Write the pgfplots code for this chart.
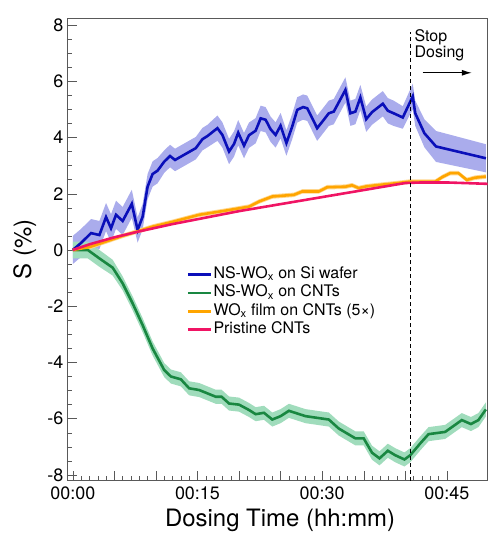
\documentclass[border=0pt]{standalone}
\usepackage{pgfplots}
\pgfplotsset{compat=1.18}
\usepackage{pgfplotstable}
\usepgfplotslibrary{fillbetween}
\usetikzlibrary{arrows.meta}
\usepackage{fontspec}
\setmainfont{TeX Gyre Heros}

\definecolor{cblue}{RGB}{10,15,185}
\definecolor{cgreen}{RGB}{25,135,65}
\definecolor{corange}{RGB}{255,165,0}
\definecolor{cpink}{RGB}{240,20,100}
\definecolor{bblue}{RGB}{170,172,236}
\definecolor{bgreen}{RGB}{160,220,188}
\definecolor{borange}{RGB}{255,214,140}

% t (min), S (%), half-width of band
\pgfplotstableread{
t s e
0 0 0.5
1 0.25 0.5
2.2 0.6 0.5
3.2 0.53 0.5
4.0 1.17 0.5
4.6 0.77 0.5
5.2 1.25 0.5
6.0 1.03 0.5
7.1 1.64 0.5
7.8 0.71 0.45
8.4 1.18 0.45
9.0 2.25 0.45
9.6 2.7 0.45
10.2 2.82 0.45
11.0 3.14 0.4
11.7 3.34 0.4
12.3 3.2 0.4
14.8 3.62 0.4
15.6 3.94 0.4
16.2 4.05 0.4
17.4 4.33 0.45
18.0 4.09 0.45
18.8 3.5 0.45
19.4 3.77 0.45
19.9 4.17 0.45
20.6 3.71 0.45
21.2 4.08 0.45
22.0 4.24 0.45
22.6 4.68 0.45
23.2 4.63 0.45
23.8 4.29 0.45
24.4 4.09 0.45
25.0 4.42 0.45
25.7 3.8 0.45
26.4 4.39 0.45
27.0 4.98 0.45
27.7 5.08 0.45
28.2 5.04 0.45
29.4 4.33 0.45
30.2 4.63 0.45
30.8 4.86 0.45
31.4 4.92 0.45
32.8 5.69 0.45
33.4 4.86 0.45
34.0 4.92 0.45
34.6 5.42 0.45
35.3 4.65 0.45
36.0 4.9 0.45
37.3 5.2 0.45
37.9 4.95 0.45
38.6 4.86 0.45
39.7 4.71 0.4
40.9 5.46 0.45
41.2 4.86 0.45
42.3 4.15 0.5
43.7 3.68 0.55
49.7 3.26 0.5
}\blue

\pgfplotstableread{
t s e
0 0 0.3
1.8 0.0 0.3
3.2 -0.3 0.3
4.8 -0.63 0.28
6.0 -1.19 0.25
7.2 -1.9 0.25
8.4 -2.67 0.25
9.6 -3.5 0.25
11.0 -4.27 0.25
11.8 -4.5 0.25
13.0 -4.6 0.25
14.0 -4.92 0.25
15.2 -4.98 0.25
17.2 -5.22 0.25
17.9 -5.22 0.25
18.8 -5.46 0.25
20.0 -5.5 0.25
21.2 -5.69 0.25
22.0 -5.84 0.25
23.0 -5.79 0.25
24.0 -6.03 0.25
25.0 -5.91 0.25
26.0 -5.72 0.25
28.0 -5.91 0.25
30.8 -6.03 0.25
32.0 -6.35 0.25
34.0 -6.7 0.25
35.0 -6.7 0.25
36.0 -7.21 0.25
36.9 -7.41 0.25
37.9 -7.14 0.25
38.8 -7.3 0.25
39.9 -7.45 0.25
40.6 -7.3 0.25
41.8 -6.88 0.25
42.8 -6.55 0.25
44.8 -6.47 0.25
46.8 -6.05 0.25
47.9 -6.19 0.25
48.8 -6.05 0.25
49.7 -5.67 0.25
}\green

\pgfplotstableread{
t s e
0 0 0.08
2 0.1 0.08
4 0.3 0.08
6 0.5 0.08
8 0.68 0.08
9.6 0.83 0.08
12 1.0 0.08
15.2 1.25 0.08
18 1.38 0.08
21.2 1.54 0.08
22.4 1.72 0.08
24 1.9 0.08
26.6 1.96 0.08
27.6 2.08 0.08
29.6 2.08 0.08
30.6 2.23 0.08
32.8 2.25 0.08
33.6 2.3 0.08
34.4 2.2 0.08
35.3 2.26 0.08
36.8 2.31 0.08
38.8 2.37 0.08
40.5 2.43 0.08
43.6 2.43 0.08
44.5 2.6 0.08
45.4 2.73 0.08
46.4 2.73 0.08
47.4 2.49 0.08
48.4 2.57 0.08
49.7 2.61 0.08
}\orange

\pgfplotstableread{
t s
0 0
2 0.2
5 0.45
8 0.66
12 0.92
16 1.15
20 1.38
24 1.58
28 1.78
32 1.98
36 2.18
40 2.38
42 2.4
45 2.4
50 2.35
}\pink

\begin{document}
\begin{tikzpicture}
\begin{axis}[
    scale only axis,
    width=422pt, height=464pt,
    xmin=-0.72, xmax=49.9,
    ymin=-8.2, ymax=8.25,
    axis line style={black!65},
    every tick/.style={black!65},
    tick pos=left,
    tick align=inside,
    major tick length=10pt,
    minor tick length=5pt,
    xtick={0,5,...,45},
    xticklabels={00:00,,,00:15,,,00:30,,,00:45},
    minor x tick num=4,
    ytick={-8,-6,...,8},
    yticklabels={-8,-6,-4,-2,0,2,4,6,8},
    minor y tick num=3,
    tick label style={font=\fontsize{18}{20}\selectfont},
    xticklabel style={yshift=-3pt},
    xlabel={Dosing Time (hh:mm)},
    ylabel={S (\%)},
    label style={font=\fontsize{24}{26}\selectfont},
    xlabel style={at={(axis description cs:0.507,-0.086)},anchor=center},
    ylabel style={at={(axis description cs:-0.1,0.5)},anchor=center},
    legend style={at={(axis description cs:0.284,0.466)},anchor=north west,
        draw=none,fill=none,inner sep=0pt,
        font=\fontsize{16}{18}\selectfont,
        nodes={inner sep=1.5pt,text height=11.5pt,text depth=4pt}},
    legend cell align=left,
    legend image code/.code={\draw[#1] (0pt,0pt) -- (23pt,0pt);},
]
% bands
\addplot[draw=none,name path=bu,forget plot] table[x=t,y expr=\thisrow{s}+\thisrow{e}] {\blue};
\addplot[draw=none,name path=bl,forget plot] table[x=t,y expr=\thisrow{s}-\thisrow{e}] {\blue};
\addplot[bblue,forget plot] fill between[of=bu and bl];
\addplot[draw=none,name path=gu,forget plot] table[x=t,y expr=\thisrow{s}+\thisrow{e}] {\green};
\addplot[draw=none,name path=gl,forget plot] table[x=t,y expr=\thisrow{s}-\thisrow{e}] {\green};
\addplot[bgreen,forget plot] fill between[of=gu and gl];
\addplot[draw=none,name path=ou,forget plot] table[x=t,y expr=\thisrow{s}+\thisrow{e}] {\orange};
\addplot[draw=none,name path=ol,forget plot] table[x=t,y expr=\thisrow{s}-\thisrow{e}] {\orange};
\addplot[borange,forget plot] fill between[of=ou and ol];
% lines
\addplot[cblue,line width=2.6pt] table[x=t,y=s] {\blue};
\addlegendentry{NS-WO\textsubscript{x} on Si wafer}
\addplot[cgreen,line width=2.6pt] table[x=t,y=s] {\green};
\addlegendentry{NS-WO\textsubscript{x} on CNTs}
\addplot[corange,line width=2.6pt] table[x=t,y=s] {\orange};
\addlegendentry{WO\textsubscript{x} film on CNTs (5×)}
\addplot[cpink,line width=2.6pt] table[x=t,y=s] {\pink};
\addlegendentry{Pristine CNTs}
% stop dosing marker
\draw[black,dash pattern=on 4pt off 3pt,line width=0.9pt] (axis cs:40.6,-8.2) -- (axis cs:40.6,7.75);
\node[anchor=north west,align=left,inner sep=0pt,font=\fontsize{16}{16}\selectfont]
    at (axis cs:41.1,7.85) {Stop\\Dosing};
\draw[-{Latex[length=10pt,width=6pt]},line width=1pt] (axis cs:42.1,6.3) -- (axis cs:48.0,6.3);
\end{axis}
\path (current axis.south west) ++(-67pt,-53pt) (current axis.north east) ++(5pt,18pt);
\end{tikzpicture}
\end{document}
